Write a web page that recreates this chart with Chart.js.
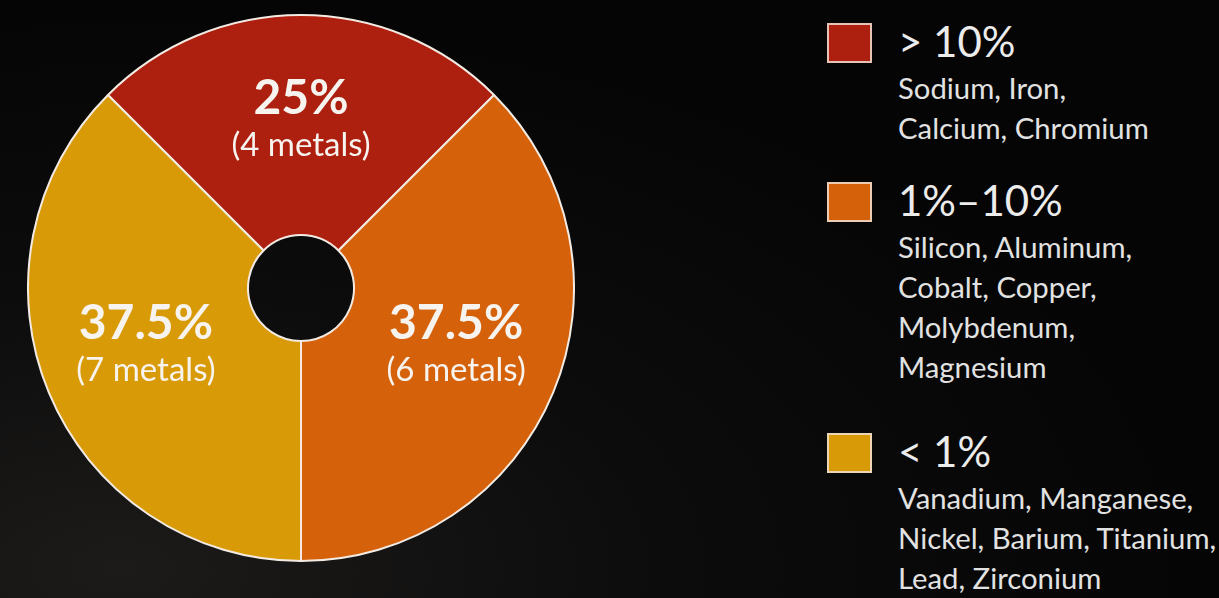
<!DOCTYPE html>
<html>
<head>
<meta charset="utf-8">
<script src="https://cdn.jsdelivr.net/npm/chart.js@4/dist/chart.umd.min.js"></script>
<style>
  html, body { margin: 0; padding: 0; }
  body {
    width: 1219px; height: 598px; overflow: hidden; position: relative;
    background: radial-gradient(ellipse at 10% 95%, #1c1b1a 0%, #0d0c0c 35%, #050505 70%);
    font-family: "Lato", "Noto Sans", sans-serif;
  }
  #wrap { position: absolute; left: 27px; top: 14px; width: 548px; height: 548px; }
  .block { position: absolute; left: 827px; }
  .sw { position: absolute; left: 0; top: 0; width: 41px; height: 36px; border: 2px solid rgba(240,225,210,0.85); box-sizing: content-box; }
  .ttl { position: absolute; left: 71px; top: -2px; height: 40px; line-height: 40px; font-size: 42px; color: #ececec; white-space: nowrap; }
  .mem { position: absolute; left: 71px; top: 45px; font-size: 29.3px; line-height: 40px; color: #e2e2e2; white-space: nowrap; }
</style>
</head>
<body>
<div id="wrap"><canvas id="c" width="548" height="548"></canvas></div>
<div id="legend"></div>
<script>
// ---- data ----
const categories = ['> 10%', '1%\u201310%', '< 1%'];
const shares = [25, 37.5, 37.5];
const metalCounts = [4, 6, 7];
const memberLines = [
  ['Sodium, Iron,', 'Calcium, Chromium'],
  ['Silicon, Aluminum,', 'Cobalt, Copper,', 'Molybdenum,', 'Magnesium'],
  ['Vanadium, Manganese,', 'Nickel, Barium, Titanium,', 'Lead, Zirconium']
];
const sliceColors = ['#ad1f0e', '#d5620a', '#d99a07'];
const legendTops = [23, 182, 433];

// ---- legend (HTML text) ----
const legend = document.getElementById('legend');
categories.forEach((cat, i) => {
  const b = document.createElement('div');
  b.className = 'block';
  b.style.top = legendTops[i] + 'px';
  const sw = document.createElement('div');
  sw.className = 'sw';
  sw.style.background = sliceColors[i];
  const t = document.createElement('div');
  t.className = 'ttl';
  t.textContent = cat;
  const m = document.createElement('div');
  m.className = 'mem';
  m.innerHTML = memberLines[i].join('<br>');
  b.appendChild(sw); b.appendChild(t); b.appendChild(m);
  legend.appendChild(b);
});

// ---- slice labels plugin ----
const sliceLabels = {
  id: 'sliceLabels',
  afterDatasetsDraw(chart) {
    const ctx = chart.ctx;
    const meta = chart.getDatasetMeta(0);
    meta.data.forEach((arc, i) => {
      const p = arc.getProps(['x', 'y', 'startAngle', 'endAngle', 'outerRadius'], true);
      const mid = (p.startAngle + p.endAngle) / 2;
      const r = p.outerRadius * 0.615;
      const cx = p.x + Math.cos(mid) * r;
      const cy = p.y + Math.sin(mid) * r - (i === 0 ? -2 : 5);
      ctx.save();
      ctx.fillStyle = '#f7f3ef';
      ctx.textAlign = 'center';
      ctx.textBaseline = 'middle';
      ctx.font = 'bold 48px Lato, "Noto Sans", sans-serif';
      ctx.fillText(shares[i] + '%', cx, cy - 24);
      ctx.font = '33px Lato, "Noto Sans", sans-serif';
      ctx.fillText('(' + metalCounts[i] + ' metals)', cx, cy + 23);
      ctx.restore();
    });
  }
};

new Chart(document.getElementById('c'), {
  type: 'doughnut',
  data: {
    labels: categories,
    datasets: [{
      data: shares,
      backgroundColor: sliceColors,
      borderColor: '#f3ebe3',
      borderWidth: 2,
      hoverOffset: 0,
      borderAlign: 'center'
    }]
  },
  options: {
    responsive: false,
    maintainAspectRatio: false,
    animation: false,
    rotation: -45,
    cutout: 53,
    layout: { padding: 0 },
    plugins: { legend: { display: false }, tooltip: { enabled: false } },
    events: []
  },
  plugins: [sliceLabels]
});
</script>
</body>
</html>
